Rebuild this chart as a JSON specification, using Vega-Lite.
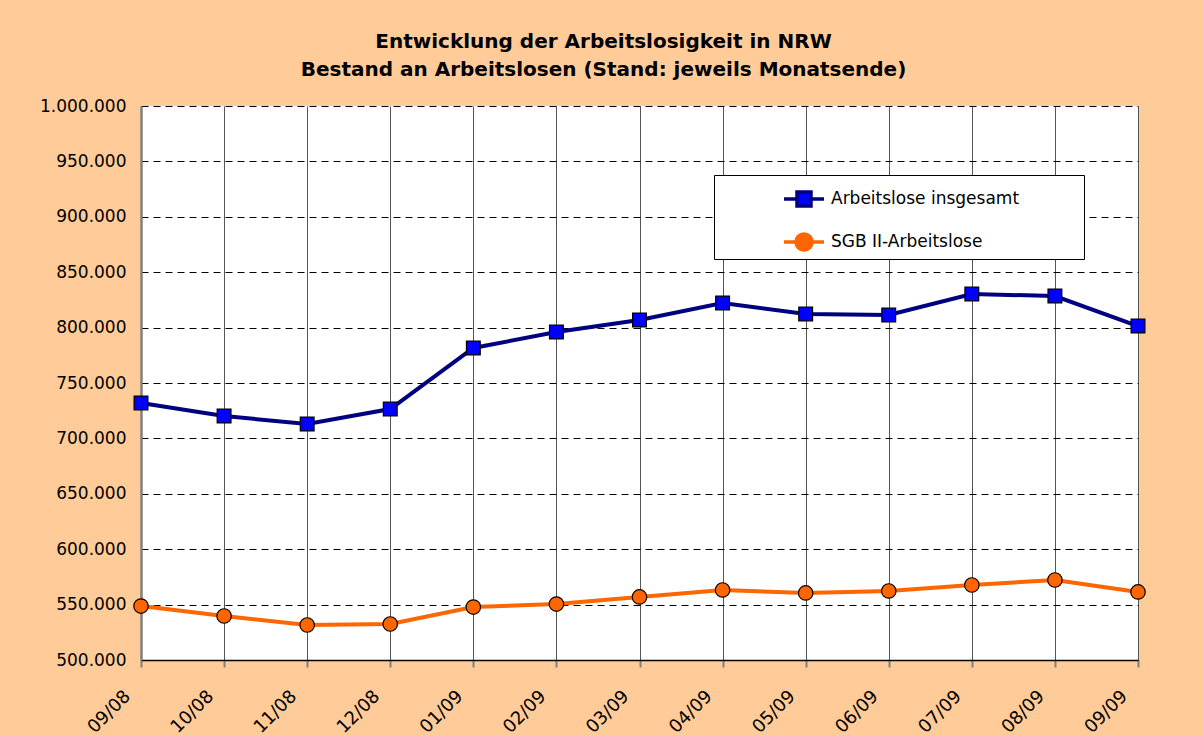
{
  "$schema": "https://vega.github.io/schema/vega-lite/v6.json",
  "width": 997,
  "height": 554,
  "autosize": {"type": "none"},
  "padding": {"left": 141, "top": 106, "right": 65, "bottom": 76},
  "background": "#FFCC99",
  "title": {
    "text": ["Entwicklung der Arbeitslosigkeit in NRW", "Bestand an Arbeitslosen (Stand: jeweils Monatsende)"],
    "anchor": "middle",
    "dx": -36,
    "offset": 17,
    "font": "DejaVu Sans",
    "fontSize": 20,
    "fontWeight": "bold",
    "lineHeight": 28,
    "color": "#000000"
  },
  "data": {
    "values": [
      {"monat": "09/08", "series": "Arbeitslose insgesamt", "wert": 732000},
      {"monat": "10/08", "series": "Arbeitslose insgesamt", "wert": 720200},
      {"monat": "11/08", "series": "Arbeitslose insgesamt", "wert": 713000},
      {"monat": "12/08", "series": "Arbeitslose insgesamt", "wert": 726500},
      {"monat": "01/09", "series": "Arbeitslose insgesamt", "wert": 781600},
      {"monat": "02/09", "series": "Arbeitslose insgesamt", "wert": 796000},
      {"monat": "03/09", "series": "Arbeitslose insgesamt", "wert": 806900},
      {"monat": "04/09", "series": "Arbeitslose insgesamt", "wert": 822200},
      {"monat": "05/09", "series": "Arbeitslose insgesamt", "wert": 812300},
      {"monat": "06/09", "series": "Arbeitslose insgesamt", "wert": 811400},
      {"monat": "07/09", "series": "Arbeitslose insgesamt", "wert": 830300},
      {"monat": "08/09", "series": "Arbeitslose insgesamt", "wert": 828500},
      {"monat": "09/09", "series": "Arbeitslose insgesamt", "wert": 801400},
      {"monat": "09/08", "series": "SGB II-Arbeitslose", "wert": 548700},
      {"monat": "10/08", "series": "SGB II-Arbeitslose", "wert": 539700},
      {"monat": "11/08", "series": "SGB II-Arbeitslose", "wert": 531600},
      {"monat": "12/08", "series": "SGB II-Arbeitslose", "wert": 532500},
      {"monat": "01/09", "series": "SGB II-Arbeitslose", "wert": 547800},
      {"monat": "02/09", "series": "SGB II-Arbeitslose", "wert": 550500},
      {"monat": "03/09", "series": "SGB II-Arbeitslose", "wert": 556900},
      {"monat": "04/09", "series": "SGB II-Arbeitslose", "wert": 563200},
      {"monat": "05/09", "series": "SGB II-Arbeitslose", "wert": 560500},
      {"monat": "06/09", "series": "SGB II-Arbeitslose", "wert": 562300},
      {"monat": "07/09", "series": "SGB II-Arbeitslose", "wert": 567700},
      {"monat": "08/09", "series": "SGB II-Arbeitslose", "wert": 572200},
      {"monat": "09/09", "series": "SGB II-Arbeitslose", "wert": 561400}
    ]
  },
  "encoding": {
    "x": {
      "field": "monat",
      "type": "ordinal",
      "sort": null,
      "scale": {"type": "point", "padding": 0},
      "axis": {
        "title": null,
        "labelAngle": -45,
        "labelFont": "DejaVu Sans",
        "labelFontSize": 18,
        "labelColor": "#000000",
        "labelPadding": 20,
        "labelOffset": -20,
        "tickSize": 7,
        "tickColor": "#808080",
        "tickWidth": 2,
        "domainColor": "#000000",
        "domainWidth": 1.5,
        "grid": true,
        "gridColor": "#555555",
        "gridWidth": 1,
        "gridDash": []
      }
    },
    "y": {
      "field": "wert",
      "type": "quantitative",
      "scale": {"domain": [500000, 1000000], "nice": false, "zero": false},
      "axis": {
        "title": null,
        "values": [500000, 550000, 600000, 650000, 700000, 750000, 800000, 850000, 900000, 950000, 1000000],
        "format": ",.0f",
        "labelFont": "DejaVu Sans",
        "labelFontSize": 17,
        "labelColor": "#000000",
        "labelPadding": 15,
        "ticks": false,
        "domainColor": "#808080",
        "domainWidth": 2.5,
        "grid": true,
        "gridColor": "#000000",
        "gridWidth": 1,
        "gridDash": [7, 5]
      }
    }
  },
  "layer": [
    {
      "mark": {"type": "line", "strokeWidth": 4},
      "encoding": {
        "stroke": {
          "field": "series",
          "type": "nominal",
          "scale": {"domain": ["Arbeitslose insgesamt", "SGB II-Arbeitslose"], "range": ["#000080", "#FF6600"]},
          "legend": {
            "title": null,
            "orient": "none",
            "legendX": 573,
            "legendY": 69,
            "direction": "vertical",
            "fillColor": "#FFFFFF",
            "strokeColor": "#000000",
            "padding": 2,
            "symbolOffset": 66,
            "symbolSize": 1600,
            "symbolStrokeWidth": 3.5,
            "rowPadding": 7,
            "labelOffset": 5,
            "labelLimit": 500,
            "labelFont": "DejaVu Sans",
            "labelFontSize": 17,
            "labelColor": "#000000",
            "labelExpr": "datum.label + '\u2003\u2003\u2003\u2002\u2009\u200b'",
            "encode": {
              "symbols": {
                "update": {
                  "shape": {"signal": "datum.value === 'Arbeitslose insgesamt' ? 'M-1,0H-0.35M0.35,0H1M-0.35,-0.35H0.35V0.35H-0.35Z' : 'M-1,0H-0.4M0.4,0H1M0.4,0A0.4,0.4,0,1,1,-0.4,0A0.4,0.4,0,1,1,0.4,0Z'"},
                  "fill": {"signal": "datum.value === 'Arbeitslose insgesamt' ? '#0000FF' : '#FF6600'"}
                }
              }
            }
          }
        }
      }
    },
    {
      "transform": [{"filter": "datum.series === 'Arbeitslose insgesamt'"}],
      "mark": {"type": "point", "shape": "square", "filled": true, "fill": "#0000FF", "stroke": "#000000", "strokeWidth": 1.2, "opacity": 1, "size": 190}
    },
    {
      "transform": [{"filter": "datum.series === 'SGB II-Arbeitslose'"}],
      "mark": {"type": "point", "shape": "circle", "filled": true, "fill": "#FF6600", "stroke": "#000000", "strokeWidth": 1.2, "opacity": 1, "size": 210}
    }
  ],
  "config": {
    "locale": {"number": {"decimal": ",", "thousands": ".", "grouping": [3], "currency": ["", " €"]}},
    "view": {"fill": "#FFFFFF", "stroke": null}
  }
}
